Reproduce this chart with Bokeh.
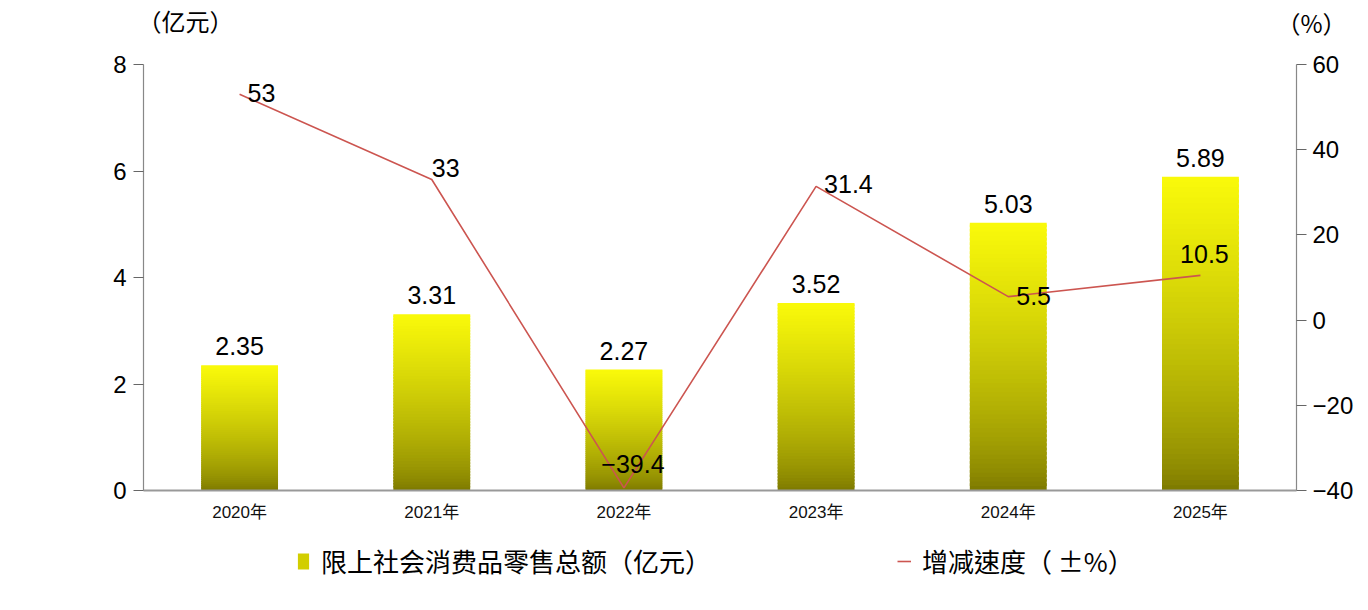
from bokeh.plotting import figure
from bokeh.models import Range1d, LinearAxis, Label, Legend, LegendItem, ColumnDataSource, FixedTicker
from bokeh.embed import file_html
from bokeh.resources import INLINE
from bokeh.core.properties import value

years = ["2020年", "2021年", "2022年", "2023年", "2024年", "2025年"]
sales = [2.35, 3.31, 2.27, 3.52, 5.03, 5.89]
growth = [53, 33, -39.4, 31.4, 5.5, 10.5]
left_ticks = [0, 2, 4, 6, 8]
right_ticks = [-40, -20, 0, 20, 40, 60]
bar_name = "限上社会消费品零售总额（亿元）"
line_name = "增减速度（ ±%）"
left_unit = "（亿元）"
right_unit = "（%）"

# label styling (screen offsets)
g_xoff = [8, 0, 9, 8, 8, 4]
g_yoff = [-1, -12, -24, -2, -1, -21]
g_align = ["left", "left", "center", "left", "left", "center"]

NUM_FONT = "Liberation Sans, Noto Sans CJK SC"
CJK_FONT = "Noto Sans CJK TC"

W, H = 1364, 594
# frame == whole canvas; axes are pinned inside it
px_x = 192.17
px_l = 53.25
px_r = 4.26
x0, yb = 143, 490
xr = Range1d(-x0 / px_x, 6 + (W - (x0 + 6 * px_x)) / px_x)
yl = Range1d(-(H - yb) / px_l, yb / px_l)
p = figure(x_range=xr, y_range=yl, width=W, height=H,
           output_backend="svg", toolbar_location=None, x_axis_type=None, y_axis_type=None,
           min_border=0, min_border_left=0, min_border_right=0, min_border_top=0, min_border_bottom=0)
p.outline_line_color = None
p.grid.visible = False
p.background_fill_color = "white"
p.border_fill_color = "white"
p.extra_y_ranges = {"g": Range1d(-40 - (H - yb) / px_r, -40 + yb / px_r)}

xc = [i + 0.5 for i in range(len(years))]

# gradient bars built as stacked slices
N = 60
top_c = (250, 250, 10)
bot_c = (122, 118, 0)
xs, bs, ts, cs = [], [], [], []
for xv, v in zip(xc, sales):
    for i in range(N):
        f0 = i / N
        f1 = (i + 1) / N
        fm = (f0 + f1) / 2
        t = fm ** 0.7
        c = tuple(int(round(b + (a - b) * t)) for a, b in zip(top_c, bot_c))
        xs.append(xv)
        bs.append(v * f0)
        ts.append(v * min(1.0, f1 + 0.6 / N))
        cs.append("#%02x%02x%02x" % c)
p.vbar(x=xs, bottom=bs, top=ts, width=0.4, fill_color=cs, line_color=None)

# legend proxy for bars
proxy = p.vbar(x=[xc[0]], top=[0], bottom=[0], width=0.01, fill_color="#d2ce00", line_color=None)

line_r = p.line(x=xc, y=growth, y_range_name="g", line_color="#cc5550", line_width=1.6)

# bar value labels
bsrc = ColumnDataSource(dict(x=xc, y=sales, t=["%.2f" % v for v in sales]))
p.text(x="x", y="y", text="t", source=bsrc, text_align="center", text_baseline="bottom",
       y_offset=-10, text_font_size="25px", text_color="black", text_font=value(NUM_FONT))

# growth labels
gsrc = ColumnDataSource(dict(x=xc, y=growth,
                             t=[("%g" % g).replace("-", "−") for g in growth],
                             xo=g_xoff, yo=g_yoff, al=g_align))
p.text(x="x", y="y", text="t", source=gsrc, y_range_name="g", x_offset="xo", y_offset="yo",
       text_align="al", text_baseline="middle", text_font_size="25px", text_color="black",
       text_font=value(NUM_FONT))

def style_y(ax):
    ax.axis_line_color = "#888888"
    ax.axis_line_width = 1.2
    ax.major_tick_line_color = "#666666"
    ax.major_tick_out = 10
    ax.major_tick_in = 0
    ax.minor_tick_line_color = None
    ax.major_label_text_font_size = "24px"
    ax.major_label_text_font = NUM_FONT
    ax.major_label_text_color = "black"
    ax.major_label_standoff = 7

la = LinearAxis(ticker=FixedTicker(ticks=left_ticks), bounds=(0, 8), fixed_location=0)
style_y(la)
p.add_layout(la, "left")

ra = LinearAxis(y_range_name="g", ticker=FixedTicker(ticks=right_ticks), bounds=(-40, 60),
                fixed_location=6)
ra.major_label_overrides = {t: str(t).replace("-", "−") for t in right_ticks}
style_y(ra)
ra.major_label_standoff = 6
p.add_layout(ra, "right")

ba = LinearAxis(ticker=FixedTicker(ticks=xc), bounds=(0, 6), fixed_location=0)
ba.major_label_overrides = {x: y for x, y in zip(xc, years)}
ba.axis_line_color = "#999999"
ba.axis_line_width = 2
ba.major_tick_line_color = None
ba.minor_tick_line_color = None
ba.major_label_text_font_size = "17px"
ba.major_label_text_font = NUM_FONT
ba.major_label_text_color = "#111111"
ba.major_label_standoff = 6
p.add_layout(ba, "below")

# unit titles
p.add_layout(Label(x=137, y=H - 20, x_units="screen", y_units="screen", text=left_unit,
                   text_font_size="24px", text_font=CJK_FONT, text_baseline="middle",
                   text_align="left", text_color="black"))
p.add_layout(Label(x=1276, y=H - 22, x_units="screen", y_units="screen", text=right_unit,
                   text_font_size="24px", text_font=CJK_FONT, text_baseline="middle",
                   text_align="left", text_color="black"))

legend = Legend(items=[LegendItem(label=bar_name, renderers=[proxy]),
                       LegendItem(label=line_name, renderers=[line_r])],
                orientation="horizontal", location=(296, 15),
                glyph_width=14, glyph_height=20, spacing=186, label_standoff=11,
                label_text_font_size="26px", label_text_font=CJK_FONT,
                label_text_color="black", border_line_color=None,
                background_fill_alpha=0, margin=0, padding=5)
p.add_layout(legend, "center")

open("out.html", "w").write(file_html(p, INLINE))
